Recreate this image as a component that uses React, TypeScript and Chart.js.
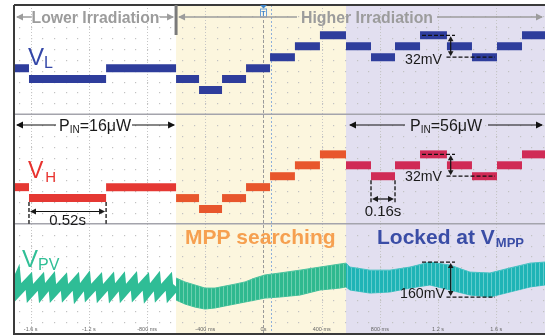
import React, { useEffect, useRef } from "react";
import { Chart, registerables } from "chart.js";

Chart.register(...registerables);

// ---- axis (time, seconds) ----
const timeMin = -1.715;
const timeMax = 1.935;
const tickValues = [-1.6, -1.2, -0.8, -0.4, 0, 0.4, 0.8, 1.2, 1.6];
const tickLabels = ["-1.6 s", "-1.2 s", "-800 ms", "-400 ms", "0s", "400 ms", "800 ms", "1.2 s", "1.6 s"];

// region edges: lower irradiation | MPP searching | locked at VMPP
const regionEdges = [-1.715, -0.601, 0.567, 1.935];

// ---- VL / VH step levels (mV, relative) ----
const stepEdges = [-1.715, -1.612, -1.082, -0.601, -0.443, -0.285, -0.12, 0.045, 0.216, 0.388, 0.567, 0.739, 0.904, 1.076, 1.261, 1.433, 1.605, 1.777, 1.935];
const vlLevels = [32, 16, 32, 16, 0, 16, 32, 48, 64, 80, 64, 48, 64, 80, 64, 48, 64, 80];
const vhLevels = [32, 16, 32, 16, 0, 16, 32, 48, 64, 80, 64, 48, 64, 80, 64, 48, 64, 80];

// ---- VPV, lower irradiation sawtooth (s, mV relative) ----
const vpvSawT = [-1.715, -1.695, -1.687, -1.613, -1.605, -1.53, -1.522, -1.455, -1.447, -1.372, -1.364, -1.29, -1.282, -1.214, -1.206, -1.132, -1.124, -1.049, -1.041, -0.974, -0.966, -0.891, -0.883, -0.809, -0.801, -0.733, -0.725, -0.651, -0.643, -0.601];
const vpvSawMv = [50, 80, 22, 74, 16, 72, 18, 73, 16, 71, 17, 72, 15, 74, 18, 72, 16, 73, 17, 72, 16, 74, 18, 72, 16, 73, 17, 72, 16, 48];

// ---- VPV ripple envelope, MPP searching (s, mV) ----
const vpvSearchT = [-0.601, -0.54, -0.471, -0.402, -0.333, -0.265, -0.196, -0.127, -0.058, 0.01, 0.113, 0.251, 0.388, 0.526, 0.567];
const vpvSearchHi = [87, 69, 55, 41, 41, 50, 59, 69, 87, 101, 110, 123, 137, 151, 155];
const vpvSearchLo = [-14, -32, -46, -55, -50, -41, -32, -23, -14, -5, 0, 9, 32, 41, 46];

// ---- VPV ripple envelope, locked at VMPP (s, mV) ----
const vpvLockT = [0.567, 0.595, 0.732, 0.869, 1.007, 1.144, 1.282, 1.419, 1.557, 1.694, 1.832, 1.935];
const vpvLockHi = [155, 137, 123, 123, 137, 160, 146, 114, 110, 133, 155, 160];
const vpvLockLo = [46, 32, 18, 23, 41, 55, 32, 9, 0, 23, 46, 55];

// channel placement on the screen (divisions) and sensitivity (mV/div)
const VL_OFF = 4.445;
const VH_OFF = 2.268;
const VPV_OFF = 0.658;
const VLH_SCALE = 80;
const VPV_SCALE = 250;

const vl = (mv: number) => VL_OFF + mv / VLH_SCALE;
const vh = (mv: number) => VH_OFF + mv / VLH_SCALE;
const vpv = (mv: number) => VPV_OFF + mv / VPV_SCALE;

const FONT = "'Liberation Sans', Arial, sans-serif";

function stepData(levels: number[], conv: (v: number) => number) {
  const pts: any[] = [];
  levels.forEach((mv, i) => {
    const y = conv(mv);
    pts.push({ x: stepEdges[i], y });
    pts.push({ x: stepEdges[i + 1], y });
    pts.push({ x: stepEdges[i + 1], y: null });
  });
  return pts;
}

function stripes(base: string, light: string) {
  const c = document.createElement("canvas");
  c.width = 4;
  c.height = 4;
  const g = c.getContext("2d")!;
  g.fillStyle = base;
  g.fillRect(0, 0, 4, 4);
  g.fillStyle = light;
  g.fillRect(3, 0, 1, 4);
  return g.createPattern(c, "repeat");
}

function head(ctx: CanvasRenderingContext2D, x: number, y: number, dir: string, len = 7, half = 3.5) {
  ctx.beginPath();
  if (dir === "l") { ctx.moveTo(x, y); ctx.lineTo(x + len, y - half); ctx.lineTo(x + len, y + half); }
  if (dir === "r") { ctx.moveTo(x, y); ctx.lineTo(x - len, y - half); ctx.lineTo(x - len, y + half); }
  if (dir === "u") { ctx.moveTo(x, y); ctx.lineTo(x - half, y + len); ctx.lineTo(x + half, y + len); }
  if (dir === "d") { ctx.moveTo(x, y); ctx.lineTo(x - half, y - len); ctx.lineTo(x + half, y - len); }
  ctx.closePath();
  ctx.fill();
}

function hline(ctx: CanvasRenderingContext2D, x1: number, x2: number, y: number) {
  ctx.beginPath(); ctx.moveTo(x1, y); ctx.lineTo(x2, y); ctx.stroke();
}
function vline(ctx: CanvasRenderingContext2D, x: number, y1: number, y2: number) {
  ctx.beginPath(); ctx.moveTo(x, y1); ctx.lineTo(x, y2); ctx.stroke();
}

function parts(ctx: CanvasRenderingContext2D, x: number, y: number, list: [string, string, number, number?][], color: string) {
  ctx.fillStyle = color;
  ctx.textAlign = "left";
  ctx.textBaseline = "alphabetic";
  let cx = x;
  for (const [t, f, dy, gap] of list) {
    cx += gap || 0;
    ctx.font = f;
    ctx.fillText(t, cx, y + dy);
    cx += ctx.measureText(t).width;
  }
}

const scopePlugin = {
  id: "scope",
  beforeDatasetsDraw(chart: any) {
    const { ctx, chartArea: ca, scales } = chart;
    const X = (t: number) => scales.x.getPixelForValue(t);
    const Y = (d: number) => scales.y.getPixelForValue(d);
    ctx.save();
    const bgs = ["#ffffff", "#fcf6de", "#e2dff0"];
    for (let i = 0; i < 3; i++) {
      ctx.fillStyle = bgs[i];
      ctx.fillRect(X(regionEdges[i]), ca.top, X(regionEdges[i + 1]) - X(regionEdges[i]), ca.bottom - ca.top);
    }
    // minor dot lattice
    ctx.fillStyle = "#c2c2c2";
    for (let k = -21; k <= 24; k++) {
      const x = Math.round(X(k * 0.08));
      for (let j = 1; j < 30; j++) {
        if (j % 10 === 0) continue;
        ctx.fillRect(x, Math.round(Y(j * 0.2)), 1.2, 1.2);
      }
    }
    // major dotted verticals
    ctx.strokeStyle = "#c6c6c6";
    ctx.lineWidth = 1;
    ctx.setLineDash([1, 2]);
    tickValues.forEach((t) => {
      if (t === 0) return;
      vline(ctx, Math.round(X(t)) + 0.5, ca.top, ca.bottom);
    });
    // trigger lines
    ctx.strokeStyle = "#9a9a9a";
    ctx.setLineDash([3, 2]);
    vline(ctx, Math.round(X(0)) + 0.5, ca.top, ca.bottom);
    ctx.strokeStyle = "#8fb0da";
    ctx.setLineDash([2, 2]);
    vline(ctx, Math.round(X(0.05)) + 0.5, ca.top, ca.bottom);
    ctx.setLineDash([]);
    // channel separators
    ctx.strokeStyle = "#a4a4ac";
    ctx.lineWidth = 1.5;
    hline(ctx, ca.left, ca.right, Y(4));
    hline(ctx, ca.left, ca.right, Y(2));
    // tick labels
    ctx.fillStyle = "#666";
    ctx.font = `5.5px ${FONT}`;
    ctx.textAlign = "center";
    ctx.textBaseline = "alphabetic";
    tickValues.forEach((t, i) => ctx.fillText(tickLabels[i], X(t), ca.bottom - 2.5));
    ctx.restore();
  },
  afterDatasetsDraw(chart: any) {
    const { ctx, chartArea: ca, scales } = chart;
    const X = (t: number) => scales.x.getPixelForValue(t);
    const Y = (d: number) => scales.y.getPixelForValue(d);
    ctx.save();
    // frame
    ctx.strokeStyle = "#3a3a3a";
    ctx.lineWidth = 2;
    hline(ctx, ca.left, ca.right, ca.top);
    vline(ctx, ca.left, ca.top, ca.bottom + 2);
    hline(ctx, ca.left, ca.right, ca.bottom + 1);
    // dividing bar
    ctx.strokeStyle = "#7a7a7a";
    ctx.lineWidth = 3;
    vline(ctx, X(regionEdges[1]), ca.top, ca.top + 30);

    // trigger marker
    const tx = X(0);
    ctx.fillStyle = "#3b82c8";
    ctx.beginPath(); ctx.moveTo(tx - 3.5, ca.top); ctx.lineTo(tx + 3.5, ca.top); ctx.lineTo(tx, ca.top + 3.5); ctx.closePath(); ctx.fill();
    ctx.strokeStyle = "#6aa0d8"; ctx.lineWidth = 1;
    ctx.fillStyle = "#fdf8e6";
    ctx.fillRect(tx - 3, ca.top + 4, 6, 8);
    ctx.strokeRect(tx - 3, ca.top + 4, 6, 8);
    ctx.fillStyle = "#3b82c8"; ctx.font = `bold 7px ${FONT}`; ctx.textAlign = "center";
    ctx.fillText("T", tx, ca.top + 10.5);

    // headers
    const gray = "#9c9c9c";
    ctx.strokeStyle = gray; ctx.fillStyle = gray; ctx.lineWidth = 1.5;
    const hy = 17;
    hline(ctx, ca.left + 3, 31, hy); head(ctx, ca.left + 2, hy, "l");
    hline(ctx, 160, X(regionEdges[1]) - 3, hy); head(ctx, X(regionEdges[1]) - 2, hy, "r");
    hline(ctx, X(regionEdges[1]) + 3, 297, hy); head(ctx, X(regionEdges[1]) + 2, hy, "l");
    hline(ctx, 437, ca.right - 3, hy); head(ctx, ca.right - 2, hy, "r");
    ctx.font = `bold 16px ${FONT}`; ctx.textAlign = "left";
    ctx.fillText("Lower Irradiation", 31.5, 22.5, 128);
    ctx.fillText("Higher Irradiation", 301, 22.5, 132);

    // channel labels
    parts(ctx, 28, 65, [["V", `24px ${FONT}`, 0], ["L", `16px ${FONT}`, 3]], "#3447a8");
    parts(ctx, 28, 178, [["V", `23px ${FONT}`, 0], ["H", `15px ${FONT}`, 4, 2]], "#e8322e");
    parts(ctx, 22, 267, [["V", `24px ${FONT}`, 0], ["PV", `16px ${FONT}`, 3]], "#30bf96");

    // power arrows
    ctx.strokeStyle = "#111"; ctx.fillStyle = "#111"; ctx.lineWidth = 1.2;
    const py = 125;
    hline(ctx, ca.left + 3, 56, py); head(ctx, ca.left + 2, py, "l");
    hline(ctx, 132, X(regionEdges[1]) - 2, py); head(ctx, X(regionEdges[1]) - 1, py, "r");
    hline(ctx, X(regionEdges[2]) + 4, 405, py); head(ctx, X(regionEdges[2]) + 3, py, "l");
    hline(ctx, 488, ca.right - 3, py); head(ctx, ca.right - 2, py, "r");
    parts(ctx, 59, 131, [["P", `16px ${FONT}`, 0], ["IN", `10px ${FONT}`, 2], ["=16μW", `16px ${FONT}`, 0]], "#1a1a1a");
    parts(ctx, 410, 131, [["P", `16px ${FONT}`, 0], ["IN", `10px ${FONT}`, 2], ["=56μW", `16px ${FONT}`, 0]], "#1a1a1a");

    // dashed helpers
    ctx.strokeStyle = "#111"; ctx.lineWidth = 1.3;
    ctx.setLineDash([4, 2]);
    // 0.52 s
    const a1 = X(stepEdges[1]), a2 = X(stepEdges[2]);
    vline(ctx, a1, Y(vh(vhLevels[1])) + 4, Y(2));
    vline(ctx, a2, Y(vh(vhLevels[1])) + 4, Y(2));
    // 0.16 s
    const b1 = X(stepEdges[11]), b2 = X(stepEdges[12]);
    vline(ctx, b1, Y(vh(vhLevels[11])) + 4, Y(vh(vhLevels[11])) + 26);
    vline(ctx, b2, Y(vh(vhLevels[11])) + 4, Y(vh(vhLevels[11])) + 26);
    // 32 mV (VL & VH) and 160 mV (VPV)
    const d1 = 422, d2 = 455, d3 = 446.5, d4 = 495, ax = 450.7;
    const mvMarks = [
      [Y(vl(80)), Y(vl(48))],
      [Y(vh(80)), Y(vh(48))],
      [Y(vpv(160)), Y(vpv(0))],
    ];
    mvMarks.forEach(([top, bot]) => {
      hline(ctx, d1, d2, top);
      hline(ctx, d3, d4, bot);
    });
    ctx.setLineDash([]);
    ctx.lineWidth = 1.2;
    mvMarks.forEach(([top, bot]) => {
      vline(ctx, ax, top + 4, bot - 4);
      head(ctx, ax, top + 1, "u", 5, 2.8);
      head(ctx, ax, bot - 1, "d", 5, 2.8);
    });
    // time arrows
    const ty1 = 211.5;
    hline(ctx, a1 + 3, a2 - 3, ty1); head(ctx, a1 + 1, ty1, "l", 6, 3); head(ctx, a2 - 1, ty1, "r", 6, 3);
    const ty2 = 199;
    hline(ctx, b1 + 3, b2 - 3, ty2); head(ctx, b1 + 1, ty2, "l", 6, 3); head(ctx, b2 - 1, ty2, "r", 6, 3);

    ctx.fillStyle = "#1a1a1a";
    ctx.font = `15px ${FONT}`;
    ctx.textAlign = "center";
    ctx.fillText("0.52s", (a1 + a2) / 2, 225);
    ctx.fillText("0.16s", (b1 + b2) / 2, 216);
    ctx.textAlign = "right";
    ctx.fillText("32mV", 442, Y(vl(48)) + 6.5, 37);
    ctx.fillText("32mV", 442, Y(vh(48)) + 5, 37);
    ctx.fillText("160mV", 445, Y(vpv(0)) + 0.5, 45);

    // region captions
    ctx.textAlign = "left";
    ctx.fillStyle = "#f6a050";
    ctx.font = `bold 21px ${FONT}`;
    ctx.fillText("MPP searching", 185, 244, 152);
    parts(ctx, 377, 244, [["Locked at V", `bold 21px ${FONT}`, 0], ["MPP", `bold 13px ${FONT}`, 2.5, 1]], "#3a4da6");
    ctx.restore();
  },
};

export default function App() {
  const ref = useRef<HTMLCanvasElement | null>(null);
  useEffect(() => {
    document.body.style.margin = "0";
    document.body.style.overflow = "hidden";
    const canvas = ref.current;
    if (!canvas) return;
    const red = "#e53833", orange = "#e8562c", crimson = "#d02b56";
    const chart = new Chart(canvas, {
      type: "line",
      data: {
        datasets: [
          {
            label: "VL",
            data: stepData(vlLevels, vl),
            borderColor: "#2e3d9c",
            borderWidth: 8,
            pointRadius: 0,
            spanGaps: false,
          },
          {
            label: "VH",
            data: stepData(vhLevels, vh),
            borderColor: red,
            borderWidth: 8,
            pointRadius: 0,
            spanGaps: false,
            segment: {
              borderColor: (c: any) => {
                const x = c.p0.parsed.x;
                return x < regionEdges[1] - 1e-6 ? red : x < regionEdges[2] - 1e-6 ? orange : crimson;
              },
            },
          },
          {
            label: "VPV",
            data: vpvSawT.map((t, i) => ({ x: t, y: vpv(vpvSawMv[i]) })),
            borderColor: "#2fbd96",
            borderWidth: 8,
            pointRadius: 0,
            borderJoinStyle: "miter",
          },
          {
            label: "VPV search hi",
            data: vpvSearchT.map((t, i) => ({ x: t, y: vpv(vpvSearchHi[i]) })),
            borderColor: "#4cc39f",
            backgroundColor: stripes("#2fb98f", "#6ccfae"),
            borderWidth: 1,
            pointRadius: 0,
            fill: "+1",
          },
          {
            label: "VPV search lo",
            data: vpvSearchT.map((t, i) => ({ x: t, y: vpv(vpvSearchLo[i]) })),
            borderColor: "#4cc39f",
            borderWidth: 1,
            pointRadius: 0,
          },
          {
            label: "VPV lock hi",
            data: vpvLockT.map((t, i) => ({ x: t, y: vpv(vpvLockHi[i]) })),
            borderColor: "#48c2c4",
            backgroundColor: stripes("#1fb4b6", "#62cccd"),
            borderWidth: 1,
            pointRadius: 0,
            fill: "+1",
          },
          {
            label: "VPV lock lo",
            data: vpvLockT.map((t, i) => ({ x: t, y: vpv(vpvLockLo[i]) })),
            borderColor: "#48c2c4",
            borderWidth: 1,
            pointRadius: 0,
          },
        ],
      },
      options: {
        animation: false,
        responsive: false,
        maintainAspectRatio: false,
        layout: { padding: { left: 14, top: 5, right: 0, bottom: 3 } },
        scales: {
          x: { type: "linear", min: timeMin, max: timeMax, display: false },
          y: { type: "linear", min: 0, max: 6, display: false },
        },
        plugins: { legend: { display: false }, tooltip: { enabled: false } },
        elements: { line: { borderCapStyle: "butt", tension: 0 } },
      },
      plugins: [scopePlugin],
    } as any);
    return () => chart.destroy();
  }, []);
  return (
    <div style={{ width: 545, height: 336 }}>
      <canvas ref={ref} width={545} height={336} style={{ display: "block" }} />
    </div>
  );
}
